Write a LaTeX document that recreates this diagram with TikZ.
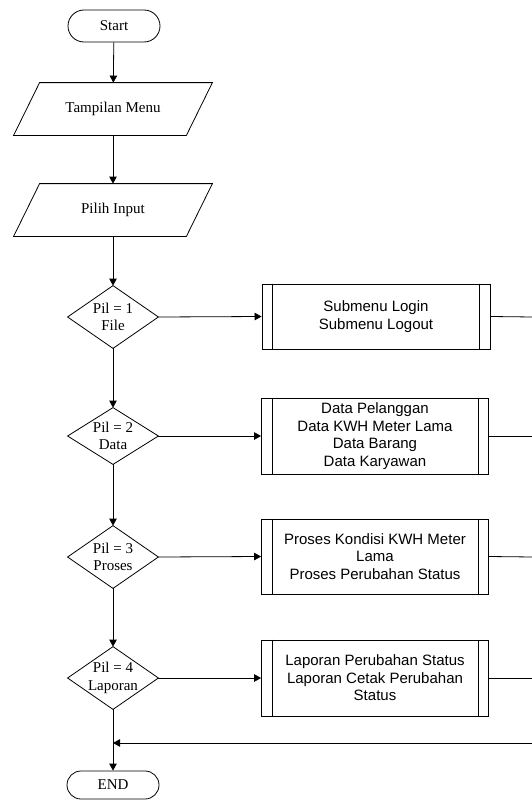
\documentclass[tikz,border=0pt]{standalone}
\usepackage{fontspec}
\setmainfont{Liberation Serif}
\newfontfamily\arialf{Liberation Sans}
\usetikzlibrary{arrows.meta}
\begin{document}
\begin{tikzpicture}[x=1pt,y=-1pt,
  every node/.style={font=\fontsize{15}{17.5}\selectfont, inner sep=0pt, align=center},
  term/.style={draw, rectangle, rounded corners=14pt, minimum width=92pt},
  iobox/.style={minimum width=172pt, minimum height=52pt},
  decbox/.style={minimum width=90pt},
  subbox/.style={draw, rectangle, minimum width=227pt, font=\arialf\fontsize{15}{17.5}\selectfont},
  conn/.style={line width=0.8pt},
  arr/.style={conn, -{Triangle[length=7pt,width=7.5pt]}}
]
\useasboundingbox (0,0) rectangle (531,800);
\tikzset{every path/.append style={line width=0.8pt}}

\node[term, minimum height=32pt, rounded corners=16pt] (start) at (114,26) {Start};
\node[iobox] (menu) at (113,109) {Tampilan Menu};
\node[iobox] (input) at (113,210) {Pilih Input};
\node[decbox, minimum height=62pt] (d1) at (113,317) {Pil = 1\\File};
\node[decbox, minimum height=56pt] (d2) at (113,436) {Pil = 2\\Data};
\node[decbox, minimum height=62pt] (d3) at (113,557) {Pil = 3\\Proses};
\node[decbox, minimum height=62pt] (d4) at (113,678) {Pil = 4\\Laporan};
\node[term, minimum height=28pt] (end) at (113,785) {END};

\node[subbox, minimum height=65pt, minimum width=228pt] (b1) at (376,316.5) {Submenu Login\\Submenu Logout};
\node[subbox, minimum height=76pt] (b2) at (375,436) {Data Pelanggan\\Data KWH Meter Lama\\Data Barang\\Data Karyawan};
\node[subbox, minimum height=75pt] (b3) at (375,556.5) {Proses Kondisi KWH Meter\\Lama\\Proses Perubahan Status};
\node[subbox, minimum height=76pt] (b4) at (375,678) {Laporan Perubahan Status\\Laporan Cetak Perubahan\\Status};

% parallelograms
\foreach \n in {menu,input}{
  \draw ([xshift=13pt]\n.north west) -- ([xshift=13pt]\n.north east)
     -- ([xshift=-13pt]\n.south east) -- ([xshift=-13pt]\n.south west) -- cycle;
}
% diamonds
\foreach \n in {d1,d2,d3,d4}{
  \draw (\n.north) -- (\n.east) -- (\n.south) -- (\n.west) -- cycle;
}
% subroutine inner lines
\foreach \n in {b1,b2,b3,b4}{
  \draw ([xshift=11pt]\n.north west) -- ([xshift=11pt]\n.south west);
  \draw ([xshift=-11pt]\n.north east) -- ([xshift=-11pt]\n.south east);
}

\coordinate (r1) at (533,317);
\coordinate (r2) at (533,436);
\coordinate (r3) at (533,557);
\coordinate (r4) at (533,678);
\coordinate (r5) at (533,743);
\coordinate (j) at (113,743);

\draw[arr] (start) -- (menu);
\draw[arr] (menu) -- (input);
\draw[arr] (input) -- (d1.north);
\draw[arr] (d1.south) -- (d2.north);
\draw[arr] (d2.south) -- (d3.north);
\draw[arr] (d3.south) -- (d4.north);
\draw[arr] (d4.south) -- (end.north);

\draw[arr] (d1.east) -- (b1.west);
\draw[arr] (d2.east) -- (b2.west);
\draw[arr] (d3.east) -- (b3.west);
\draw[arr] (d4.east) -- (b4.west);

\draw[conn] (b1.east) -- (r1);
\draw[conn] (b2.east) -- (r2);
\draw[conn] (b3.east) -- (r3);
\draw[conn] (b4.east) -- (r4);
\draw[conn] (r1) -- (r5);
\draw[arr] (r5) -- (j);
\end{tikzpicture}
\end{document}
